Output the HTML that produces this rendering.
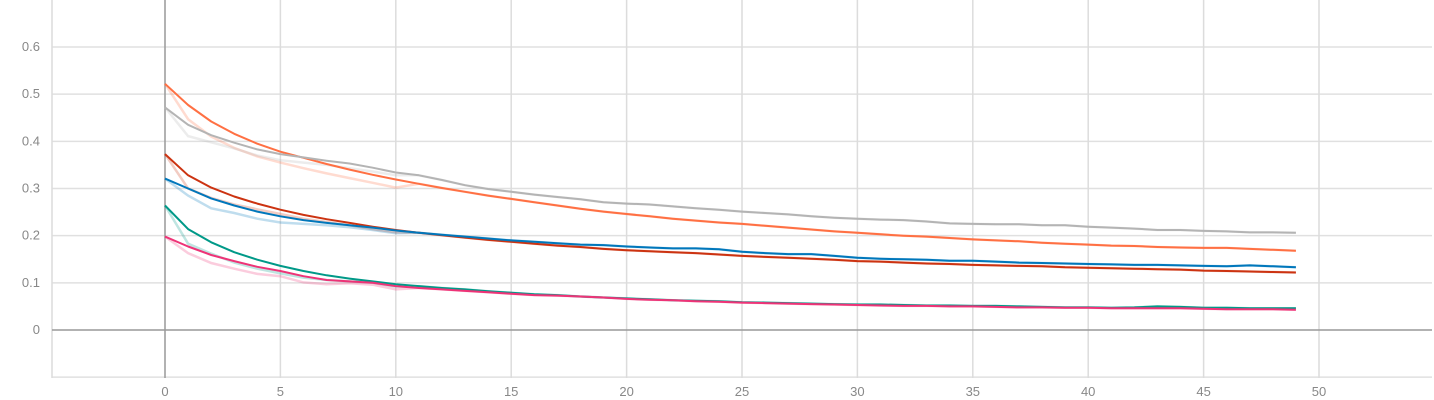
<!DOCTYPE html>
<html><head><meta charset="utf-8"><style>
html,body{margin:0;padding:0;background:#fff;}
svg{display:block;font-family:"Liberation Sans",sans-serif;}
</style></head><body>
<svg id="chart" width="1434" height="400" viewBox="0 0 1434 400"></svg>
<script>
const epochs = Array.from({length:50},(_, i)=>i);
const xTicks = [0,5,10,15,20,25,30,35,40,45,50];
const yTicks = [0,0.1,0.2,0.3,0.4,0.5,0.6];
const yTickLabels = ["0","0.1","0.2","0.3","0.4","0.5","0.6"];
const seriesNames = ["orange","gray","red","blue","teal","pink"];
const seriesColors = ["#ff7043","#b4b4b4","#cc3311","#0077bb","#009988","#ee3377"];
const orangeVals = [0.522,0.477,0.442,0.416,0.395,0.378,0.365,0.352,0.340,0.329,0.319,0.310,0.301,0.293,0.285,0.278,0.271,0.264,0.257,0.251,0.246,0.241,0.236,0.232,0.228,0.225,0.221,0.217,0.213,0.209,0.206,0.203,0.200,0.198,0.195,0.192,0.190,0.188,0.185,0.183,0.181,0.179,0.178,0.176,0.175,0.174,0.174,0.172,0.170,0.168];
const grayVals = [0.472,0.435,0.413,0.397,0.383,0.373,0.366,0.359,0.353,0.344,0.334,0.328,0.318,0.307,0.299,0.293,0.287,0.282,0.277,0.271,0.268,0.266,0.262,0.258,0.255,0.251,0.248,0.245,0.241,0.238,0.236,0.234,0.233,0.230,0.226,0.225,0.224,0.224,0.222,0.222,0.219,0.217,0.215,0.212,0.212,0.210,0.209,0.207,0.207,0.206];
const redVals = [0.373,0.328,0.302,0.283,0.268,0.255,0.244,0.235,0.227,0.219,0.212,0.206,0.201,0.196,0.191,0.187,0.183,0.179,0.176,0.172,0.169,0.167,0.165,0.163,0.160,0.157,0.155,0.153,0.151,0.149,0.146,0.145,0.143,0.141,0.140,0.138,0.137,0.136,0.135,0.133,0.132,0.131,0.130,0.129,0.128,0.126,0.125,0.124,0.123,0.122];
const blueVals = [0.321,0.300,0.279,0.264,0.251,0.241,0.233,0.227,0.222,0.217,0.211,0.206,0.202,0.198,0.194,0.190,0.187,0.184,0.181,0.180,0.177,0.175,0.173,0.173,0.171,0.166,0.163,0.161,0.161,0.157,0.153,0.151,0.150,0.149,0.147,0.147,0.145,0.143,0.142,0.141,0.140,0.139,0.138,0.138,0.137,0.136,0.135,0.137,0.135,0.133];
const tealVals = [0.264,0.214,0.186,0.165,0.149,0.136,0.125,0.116,0.109,0.103,0.097,0.093,0.089,0.086,0.082,0.079,0.076,0.074,0.071,0.069,0.067,0.065,0.063,0.062,0.061,0.059,0.058,0.057,0.056,0.055,0.054,0.054,0.053,0.052,0.052,0.051,0.051,0.050,0.049,0.048,0.048,0.047,0.048,0.050,0.049,0.047,0.047,0.046,0.046,0.046];
const pinkVals = [0.198,0.177,0.159,0.146,0.134,0.125,0.114,0.106,0.103,0.100,0.093,0.089,0.086,0.083,0.080,0.077,0.074,0.073,0.071,0.069,0.066,0.064,0.063,0.061,0.060,0.058,0.057,0.056,0.055,0.054,0.053,0.052,0.051,0.051,0.050,0.050,0.049,0.048,0.048,0.047,0.047,0.046,0.046,0.046,0.046,0.045,0.044,0.044,0.044,0.043];
const orangeRaw = [0.522,0.447,0.410,0.386,0.368,0.355,0.343,0.332,0.322,0.312,0.302];
const grayRaw = [0.472,0.411,0.398,0.385,0.370,0.360,0.355,0.350,0.343,0.336,0.328];
const redRaw = [0.373,0.300,0.280,0.266,0.256,0.246,0.236,0.229,0.222,0.214,0.207];
const blueRaw = [0.321,0.285,0.258,0.248,0.236,0.228,0.225,0.222,0.218,0.212,0.205];
const tealRaw = [0.264,0.183,0.162,0.143,0.130,0.120,0.111,0.106,0.103,0.100,0.092];
const pinkRaw = [0.198,0.163,0.142,0.130,0.119,0.114,0.101,0.097,0.099,0.096,0.086];

const mainSeries = [orangeVals,grayVals,redVals,blueVals,tealVals,pinkVals];
const rawSeries = [orangeRaw,grayRaw,redRaw,blueRaw,tealRaw,pinkRaw];

const svg = document.getElementById('chart');
const NS = 'http://www.w3.org/2000/svg';
function xs(v){ return 165 + v * (1319 - 165) / 50; }
function ys(v){ return 330 - v * (330 - 47) / 0.6; }
function mk(tag, attrs){ const e = document.createElementNS(NS, tag); for (const k in attrs) e.setAttribute(k, attrs[k]); svg.appendChild(e); return e; }

[-0.1,0.1,0.2,0.3,0.4,0.5,0.6].forEach(v=>{
  const l = mk('line',{x1:52,x2:1432,y1:ys(v),y2:ys(v),stroke:'#e0e0e0','stroke-width':1.5});
  
  
});
xTicks.forEach(v=>{
  if (v===0) return;
  const l = mk('line',{x1:xs(v),x2:xs(v),y1:0,y2:378,stroke:'#dcdcdc','stroke-width':1.5});
  
  
});
const lb = mk('line',{x1:52,x2:52,y1:0,y2:378,stroke:'#dcdcdc','stroke-width':1.5});


const xa = mk('line',{x1:52,x2:1432,y1:ys(0),y2:ys(0),stroke:'#999','stroke-width':1.5});


const ya = mk('line',{x1:xs(0),x2:xs(0),y1:0,y2:378,stroke:'#999','stroke-width':1.5});



yTicks.forEach((v,i)=>{
  const t = mk('text',{x:40,y:ys(v)+4,'text-anchor':'end','font-size':13,fill:'#888'});
  t.textContent = yTickLabels[i];
  
  
});
xTicks.forEach(v=>{
  const t = mk('text',{x:xs(v),y:396,'text-anchor':'middle','font-size':13,fill:'#888'});
  t.textContent = String(v);
  
  
});

function pathFor(arr){ return arr.map((v,i)=>(i?'L':'M')+xs(epochs[i]).toFixed(1)+','+ys(v).toFixed(1)).join(' '); }
rawSeries.forEach((arr,k)=>{
  const full = arr.concat(mainSeries[k].slice(arr.length));
  const p = mk('path',{d:pathFor(full),fill:'none',stroke:seriesColors[k],'stroke-opacity':0.25,'stroke-width':2.5});
  
  
});
mainSeries.forEach((arr,k)=>{
  const p = mk('path',{d:pathFor(arr),fill:'none',stroke:seriesColors[k],'stroke-width':2,'stroke-linejoin':'round'});
  
  
});
</script>
</body></html>
